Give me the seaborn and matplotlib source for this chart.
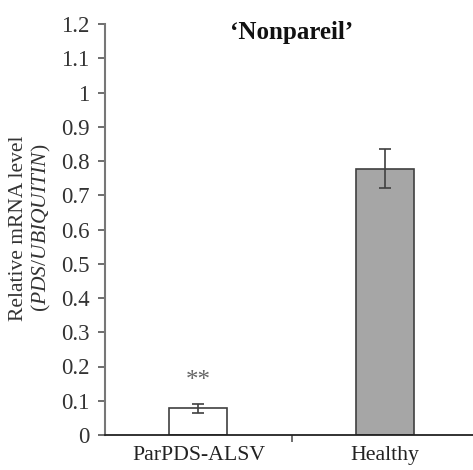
import numpy as np
import pandas as pd
import matplotlib
matplotlib.use('Agg')
import matplotlib.pyplot as plt
import seaborn as sns

# values
groups = ['ParPDS-ALSV', 'Healthy']
means = [0.078, 0.778]
errors = [0.013, 0.058]
fills = ['#ffffff', '#a6a6a6']
marks = ['**', '']

sns.set_theme(style='ticks')
plt.rcParams['font.family'] = ['Liberation Serif', 'DejaVu Serif']
plt.rcParams['mathtext.fontset'] = 'custom'
plt.rcParams['mathtext.rm'] = 'Liberation Serif'
plt.rcParams['mathtext.it'] = 'Liberation Serif:italic'

df = pd.DataFrame({'group': groups, 'mean': means, 'err': errors})

fig = plt.figure(figsize=(4.73, 4.70), dpi=100)
ax = fig.add_axes([105 / 473, 35 / 470, 368 / 473, 411 / 470])

sns.barplot(data=df, x='group', y='mean', hue='group', palette=fills,
            width=0.31, edgecolor='#404040', linewidth=1.2, legend=False, ax=ax)
ax.errorbar(np.arange(len(groups)), df['mean'], yerr=df['err'], fmt='none',
            ecolor='#404040', elinewidth=1.2, capsize=4.5, capthick=1.2)

for i, m in enumerate(marks):
    if m:
        ax.text(i, df['mean'][i] + df['err'][i] + 0.035, m, ha='center',
                va='bottom', fontsize=18, color='#666666')

ax.text(0.5, 1.175, '\u2018Nonpareil\u2019', ha='center', va='center',
        fontsize=18, fontweight='bold', color='#111111')

ax.set_ylim(0, 1.2)
ax.set_xlim(-0.5, 1.47)
ax.set_yticks(np.arange(0, 1.21, 0.1))
ax.set_yticklabels(['0'] + [f'{v:g}' for v in np.arange(0.1, 1.21, 0.1).round(1)])
ax.set_xticks([0.5])
ax.set_xticklabels([''])
ax.tick_params(axis='y', direction='out', length=5, width=1.2, color='#555555',
               labelsize=16.5, pad=6, labelcolor='#333333')
ax.tick_params(axis='x', direction='out', length=5, width=1.2, color='#555555')
for i, g in enumerate(groups):
    ax.text(i, -0.033, g, ha='center', va='top', fontsize=15.7, color='#222222')

ax.set_xlabel('')
ax.set_ylabel('Relative mRNA level\n($\\mathit{PDS/UBIQUITIN}$)', fontsize=15.5,
              color='#333333', linespacing=1.15)
ax.yaxis.set_label_coords(-0.14, 0.504)
sns.despine(ax=ax)
ax.spines['left'].set_color('#777777')
ax.spines['left'].set_linewidth(1.5)
ax.spines['bottom'].set_color('#222222')
ax.spines['bottom'].set_linewidth(1.3)

fig.savefig('out.png', dpi=100)
